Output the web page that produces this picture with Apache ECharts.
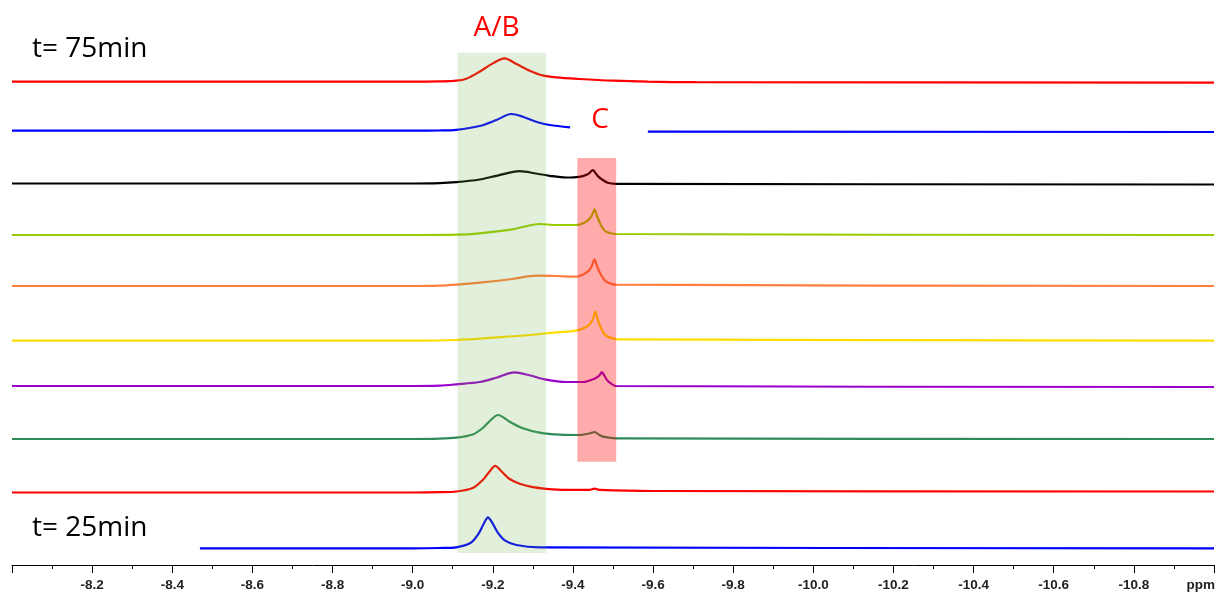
<!DOCTYPE html>
<html>
<head>
<meta charset="utf-8">
<script src="https://cdn.jsdelivr.net/npm/echarts@6/dist/echarts.min.js"></script>
<style>
  html, body { margin: 0; padding: 0; background: #fff; }
  #chart { width: 1217px; height: 593px; }
</style>
</head>
<body>
<div id="chart"></div>
<script>
// Stacked 1H spectra (hydride region), chemical shift in ppm.
// Each spectrum: [ppm, intensity above its own baseline].
const spec1 = [[-8.0,0],[-9.0,0],[-9.067,0.3],[-9.109,1],[-9.134,3],[-9.167,10],[-9.200,18.3],[-9.229,23.3],[-9.259,17.7],[-9.292,11],[-9.324,6.3],[-9.358,4.3],[-9.416,2.7],[-9.499,1],[-9.587,0],[-9.708,-0.5],[-11.0,-1]];
const spec2 = [[-8.0,0],[-9.0,0],[-9.067,0.2],[-9.109,0.9],[-9.167,4.7],[-9.209,10.7],[-9.246,16.7],[-9.275,14],[-9.308,9],[-9.342,5.7],[-9.393,3.3],[-9.49,null],[-9.587,-1],[-11.0,-1.3]];
const spec3 = [[-8.0,0],[-9.0,0],[-9.067,0.3],[-9.109,1.3],[-9.167,4],[-9.209,7.7],[-9.267,12.3],[-9.308,10],[-9.342,7.7],[-9.383,6],[-9.416,6.7],[-9.437,9.3],[-9.450,13.3],[-9.458,9.5],[-9.466,6],[-9.487,0.7],[-9.508,-0.3],[-11.0,-1]];
const spec4 = [[-8.0,0],[-9.0,0],[-9.109,0.3],[-9.167,1.7],[-9.249,5.7],[-9.317,11],[-9.358,10],[-9.408,10],[-9.433,13.3],[-9.443,17],[-9.449,21],[-9.454,25.7],[-9.460,19],[-9.466,13.3],[-9.473,7.5],[-9.483,3.3],[-9.508,1],[-11.0,0]];
const spec5 = [[-8.0,0],[-9.0,0],[-9.067,0.3],[-9.109,1.3],[-9.167,3.3],[-9.249,7],[-9.308,10.3],[-9.358,10],[-9.408,9.3],[-9.437,14.3],[-9.447,20],[-9.454,26.7],[-9.460,20],[-9.466,14.3],[-9.475,8],[-9.483,4.3],[-9.508,1.3],[-11.0,0]];
const spec6 = [[-8.0,0],[-9.0,0],[-9.109,0.7],[-9.209,3.3],[-9.292,5.7],[-9.358,8.3],[-9.408,10],[-9.437,14.7],[-9.449,21],[-9.456,29],[-9.462,21],[-9.468,14.7],[-9.478,7],[-9.491,3.3],[-9.516,1.3],[-11.0,0]];
const spec7 = [[-8.0,0],[-9.0,0],[-9.067,0.4],[-9.109,1.7],[-9.167,4],[-9.209,8.3],[-9.254,13.7],[-9.292,10.7],[-9.333,6.3],[-9.383,4],[-9.425,4],[-9.454,7.3],[-9.466,10.5],[-9.472,14],[-9.479,10],[-9.487,5],[-9.508,0],[-11.0,-1]];
const spec8 = [[-8.0,0],[-9.0,0],[-9.067,0.3],[-9.109,1.3],[-9.150,4.5],[-9.175,11],[-9.195,19],[-9.213,24],[-9.242,17.3],[-9.275,10.7],[-9.317,6.3],[-9.367,4.3],[-9.416,4],[-9.441,5.5],[-9.454,7],[-9.466,4],[-9.475,2.3],[-9.508,0.7],[-11.0,0]];
const spec9 = [[-8.0,0],[-9.0,0],[-9.067,0.3],[-9.109,1],[-9.150,4.5],[-9.175,12.5],[-9.190,20],[-9.206,26.7],[-9.222,21],[-9.240,14],[-9.267,8.7],[-9.300,5.3],[-9.333,3.7],[-9.383,2.7],[-9.441,2.7],[-9.454,3.8],[-9.466,2.7],[-9.60,1.5],[-11.0,1]];
const spec10 = [[-8.469,0],[-9.0,0],[-9.067,0.3],[-9.109,1],[-9.145,5.5],[-9.165,15],[-9.178,25],[-9.188,31],[-9.198,26],[-9.212,16],[-9.230,8],[-9.259,3.3],[-9.317,1],[-11.0,0]];

// Vertical offset of each spectrum in the stack (top = latest).
const offsets = [483.3, 434.3, 381.5, 330, 279, 224.3, 179, 126, 72.5, 16.7];
const spectra = [spec1, spec2, spec3, spec4, spec5, spec6, spec7, spec8, spec9, spec10];
const colors = ['#ff0000', '#0000ff', '#000000', '#99cc00', '#ff7f3f', '#ffdd00', '#9900cc', '#2e8b57', '#ff0000', '#0000ff'];

// Highlighted shift windows: [ppm from, ppm to, lower stack level, upper stack level]
const bandAB = [-9.112, -9.333, 12, 512.3];
const bandC = [-9.411, -9.508, 103.3, 407];

// Axis range (ppm) and tick step
const ppmMin = -11.0, ppmMax = -8.0, ppmStep = 0.2;
const stackMax = 565;

const chart = echarts.init(document.getElementById('chart'), null, { renderer: 'canvas' });

const lineSeries = spectra.map((s, i) => ({
  type: 'line',
  data: s.map(p => [p[0], p[1] === null ? null : p[1] + offsets[i]]),
  showSymbol: false,
  smooth: 0.3,
  connectNulls: false,
  lineStyle: { color: colors[i], width: 2.2 },
  z: 2,
  silent: true
}));

const bandSeries = {
  type: 'line',
  data: [],
  z: 10,
  silent: true,
  markArea: {
    silent: true,
    z: 10,
    data: [
      [{ xAxis: bandAB[0], yAxis: bandAB[2], itemStyle: { color: 'rgba(112,173,71,0.2)' } },
       { xAxis: bandAB[1], yAxis: bandAB[3] }],
      [{ xAxis: bandC[0], yAxis: bandC[2], itemStyle: { color: 'rgba(255,0,0,0.33)' } },
       { xAxis: bandC[1], yAxis: bandC[3] }]
    ]
  }
};

const option = {
  animation: false,
  backgroundColor: '#ffffff',
  grid: { left: 12, right: 2, top: 0, bottom: 28, containLabel: false },
  xAxis: {
    type: 'value',
    inverse: true,
    min: ppmMin,
    max: ppmMax,
    interval: ppmStep,
    axisLine: { lineStyle: { color: '#000', width: 1 } },
    axisTick: { length: 8, lineStyle: { color: '#000', width: 1 } },
    minorTick: { show: true, splitNumber: 2, length: 4, lineStyle: { color: '#000', width: 1 } },
    splitLine: { show: false },
    axisLabel: {
      margin: 13,
      fontFamily: 'Liberation Sans',
      fontWeight: 'bold',
      fontSize: 13.5,
      color: '#222',
      formatter: v => (v > ppmMax - 0.05 || v < ppmMin + 0.05) ? '' : v.toFixed(1)
    }
  },
  yAxis: { type: 'value', min: 0, max: stackMax, show: false },
  series: [...lineSeries, bandSeries],
  graphic: [
    { type: 'text', x: 32, y: 49, style: { text: 't= 75min', fontFamily: 'Open Sans', fontSize: 28, fill: '#000', verticalAlign: 'middle' } },
    { type: 'text', x: 32, y: 528, style: { text: 't= 25min', fontFamily: 'Open Sans', fontSize: 28, fill: '#000', verticalAlign: 'middle' } },
    { type: 'text', x: 496.5, y: 28.5, style: { text: 'A/B', fontFamily: 'Open Sans', fontSize: 28, fill: '#ff0000', align: 'center', verticalAlign: 'middle' } },
    { type: 'text', x: 600, y: 120, style: { text: 'C', fontFamily: 'Open Sans', fontSize: 28, fill: '#ff0000', align: 'center', verticalAlign: 'middle' } },
    { type: 'text', right: 2, top: 578, style: { text: 'ppm', fontFamily: 'Liberation Sans', fontWeight: 'bold', fontSize: 13.5, fill: '#222' } }
  ]
};

chart.setOption(option);
</script>
</body>
</html>
